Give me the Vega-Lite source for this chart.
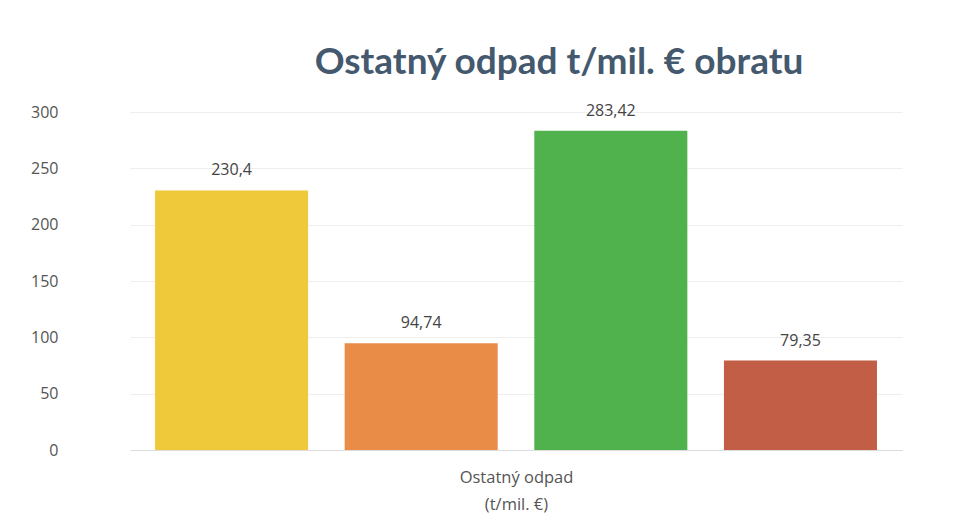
{
  "$schema": "https://vega.github.io/schema/vega-lite/v6.json",
  "autosize": "none",
  "width": 772,
  "height": 338,
  "padding": {"left": 130, "top": 112, "right": 66, "bottom": 75},
  "background": "white",
  "title": {
    "text": "Ostatný odpad t/mil. € obratu",
    "font": "Lato",
    "fontSize": 37,
    "fontWeight": "bold",
    "color": "#44596e",
    "anchor": "middle",
    "dx": 43,
    "offset": 21
  },
  "data": {
    "values": [
      {"ukazovatel": "Ostatný odpad (t/mil. €)", "rad": "1", "hodnota": 230.4, "text": "230,4"},
      {"ukazovatel": "Ostatný odpad (t/mil. €)", "rad": "2", "hodnota": 94.74, "text": "94,74"},
      {"ukazovatel": "Ostatný odpad (t/mil. €)", "rad": "3", "hodnota": 283.42, "text": "283,42"},
      {"ukazovatel": "Ostatný odpad (t/mil. €)", "rad": "4", "hodnota": 79.35, "text": "79,35"}
    ]
  },
  "encoding": {
    "x": {
      "field": "ukazovatel",
      "type": "nominal",
      "scale": {"paddingInner": 0, "paddingOuter": 0},
      "axis": {
        "labels": false,
        "ticks": false,
        "domain": true,
        "domainColor": "#dcdcdc",
        "title": ["Ostatný odpad", "(t/mil. €)"],
        "titleFont": "Open Sans",
        "titleFontSize": 16.5,
        "titleFontWeight": "normal",
        "titleColor": "#555555",
        "titlePadding": 19,
        "titleLineHeight": 27
      }
    },
    "xOffset": {
      "field": "rad",
      "type": "nominal",
      "scale": {"paddingInner": 0.193, "paddingOuter": 0.132}
    },
    "y": {
      "field": "hodnota",
      "type": "quantitative",
      "scale": {"domain": [0, 300], "nice": false},
      "axis": {
        "values": [0, 50, 100, 150, 200, 250, 300],
        "title": null,
        "domain": false,
        "ticks": false,
        "labelPadding": 72,
        "labelFont": "Open Sans",
        "labelFontSize": 16,
        "labelColor": "#555555",
        "gridColor": "#eeeeee",
        "gridWidth": 1
      }
    }
  },
  "layer": [
    {
      "mark": {"type": "bar"},
      "encoding": {
        "color": {
          "field": "rad",
          "type": "nominal",
          "scale": {"range": ["#f0c93a", "#e88c48", "#4fb24c", "#c25e45"]},
          "legend": null
        }
      }
    },
    {
      "mark": {"type": "text", "baseline": "bottom", "dy": -12, "font": "Open Sans", "fontSize": 16, "color": "#444444"},
      "encoding": {
        "text": {"field": "text", "type": "nominal"}
      }
    }
  ],
  "config": {"view": {"stroke": null}}
}
